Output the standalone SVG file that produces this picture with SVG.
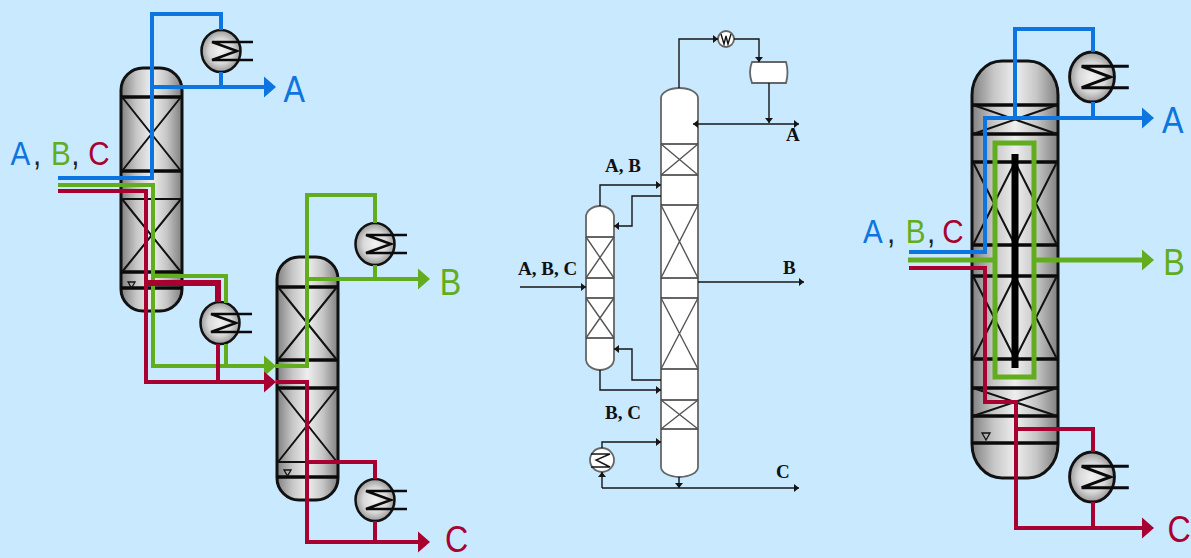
<svg xmlns="http://www.w3.org/2000/svg" xmlns:xlink="http://www.w3.org/1999/xlink" width="1191" height="558" viewBox="0 0 1191 558">
<style>
.col{fill:url(#g);stroke:#111;stroke-width:3}
.bar{stroke:#0a0a0a;stroke-width:3.5;fill:none}
.thin{stroke:#111;stroke-width:2;fill:none}
.hxb{fill:url(#g2);stroke:#111;stroke-width:2.5}
.hxl{fill:none;stroke:#0a0a0a;stroke-width:2.5}
.tri{fill:none;stroke:#111;stroke-width:1.3}
.bl,.gr,.rd{fill:none;stroke-width:4;stroke-linejoin:miter}
.bl{stroke:#0c75e0}.gr{stroke:#62ad1d}.rd{stroke:#a80030}
.lab{font-family:"Liberation Sans",Arial,sans-serif;font-size:37px}
.lab2{font-family:"Liberation Sans",Arial,sans-serif;font-size:34px}
.tb{fill:#0c75e0}.tg{fill:#62ad1d}.tr{fill:#a80030}.tk{fill:#222}
.m{fill:none;stroke:#151515;stroke-width:1.4}
.mv{fill:#fff;stroke:#666;stroke-width:1.8}
.mb{fill:none;stroke:#333;stroke-width:1.5}
.mx{fill:none;stroke:#555;stroke-width:1.4}
.sf{font-family:"Liberation Serif","Times New Roman",serif;font-weight:bold;font-size:19px;fill:#111}
</style>
<defs>
<linearGradient id="g" x1="0" x2="1" y1="0" y2="0"><stop offset="0" stop-color="#808080"/><stop offset=".25" stop-color="#c6c6c6"/><stop offset=".5" stop-color="#eeeeee"/><stop offset=".75" stop-color="#c6c6c6"/><stop offset="1" stop-color="#808080"/></linearGradient>
<radialGradient id="g2" cx=".5" cy=".5" r=".55"><stop offset="0" stop-color="#f2f2f2"/><stop offset=".55" stop-color="#d8d8d8"/><stop offset="1" stop-color="#8a8a8a"/></radialGradient>
<marker id="bh" markerUnits="userSpaceOnUse" markerWidth="13" markerHeight="22" refX="6" refY="11" orient="auto" overflow="visible"><path d="M0 0.500L12 11L0 21.500Z" fill="#0c75e0"/></marker>
<marker id="gh" markerUnits="userSpaceOnUse" markerWidth="13" markerHeight="22" refX="6" refY="11" orient="auto" overflow="visible"><path d="M0 0.500L12 11L0 21.500Z" fill="#62ad1d"/></marker>
<marker id="rh" markerUnits="userSpaceOnUse" markerWidth="13" markerHeight="22" refX="6" refY="11" orient="auto" overflow="visible"><path d="M0 0.500L12 11L0 21.500Z" fill="#a80030"/></marker>
<marker id="kh" markerUnits="userSpaceOnUse" markerWidth="6" markerHeight="8" refX="5" refY="4" orient="auto" overflow="visible"><path d="M0 0L5 4L0 8Z" fill="#151515"/></marker>
<g id="hx">
<ellipse class="hxb" cx="0" cy="0" rx="19.500" ry="21"/>
<path class="hxl" d="M32 -9H-9L16 0L-9 9H32"/>
</g>
</defs>
<rect width="1191" height="558" fill="#c8e9ff"/>

<g id="column-1">
<rect class="col" x="121" y="68" width="61" height="243" rx="22" ry="22"/>
<path class="bar" d="M121 97H182M121 171H182M121 272H182M121 288H182"/>
<path class="thin" d="M121 199H182M122 97L181 171M181 97L122 171M122 199L181 272M181 199L122 272"/>
<path class="tri" d="M128 282H135L131.500 288Z"/>
</g>
<g id="column-2">
<rect class="col" x="277" y="257" width="61" height="243" rx="22" ry="22"/>
<path class="bar" d="M277 287H338M277 360H338M277 388H338M277 477H338"/>
<path class="thin" d="M277 462H338M278 287L337 360M337 287L278 360M278 388L337 462M337 388L278 462"/>
<path class="tri" d="M284 470H291L287.500 476Z"/>
</g>
<g id="column-3">
<rect class="col" x="972" y="61" width="86" height="417" rx="30" ry="34"/>
<path class="bar" d="M972 105H1058M972 134H1058M972 162H1058M972 245H1058M972 276H1058M972 359H1058M972 388H1058M972 416H1058M972 443H1058"/>
<path class="thin" d="M973 105L1057 134M1057 105L973 134M973 388L1057 416M1057 388L973 416M973 162L1015 245M1015 162L973 245M1015 162L1057 245M1057 162L1015 245M973 276L1015 359M1015 276L973 359M1015 276L1057 359M1057 276L1015 359"/>
<path class="tri" d="M982 433H990L986 440Z"/>
<rect x="1011.500" y="154" width="7" height="214" fill="#000"/>
</g>

<g id="hx-1"><use href="#hx" xlink:href="#hx" transform="translate(221 51)"/></g>
<g id="hx-2"><use href="#hx" xlink:href="#hx" transform="translate(220 323)"/></g>
<g id="hx-3"><use href="#hx" xlink:href="#hx" transform="translate(375 244)"/></g>
<g id="hx-4"><use href="#hx" xlink:href="#hx" transform="translate(375 500)"/></g>
<g id="hx-5"><use href="#hx" xlink:href="#hx" transform="translate(1092 77) scale(1.15 1.19)"/></g>
<g id="hx-6"><use href="#hx" xlink:href="#hx" transform="translate(1092 477) scale(1.15 1.19)"/></g>

<g id="connectors-left">
<path class="gr" d="M58 185H153V366H270" marker-end="url(#gh)"/>
<path class="rd" d="M58 191H146V382H270" marker-end="url(#rh)"/>
<path class="bl" d="M58 178H152V14H221V30M221 72V87M152 87H270" marker-end="url(#bh)"/>
<path class="gr" d="M153 276H226V303M226 344V366M276 366H307V195H375V223M375 265V279M307 279H424" marker-end="url(#gh)"/>
<path class="rd" d="M146 283H218V302" style="stroke-width:6"/>
<path class="rd" d="M218 344V382M276 382H307V542H424" marker-end="url(#rh)"/>
<path class="rd" d="M307 462H375V479M375 521V542"/>
</g>
<g id="connectors-right">
<path class="bl" d="M909 252H985V118H1148" marker-end="url(#bh)"/>
<path class="bl" d="M1015 118V29H1093V52M1093 102V118"/>
<path class="gr" d="M908 260H995M1034 260H1148" style="stroke-width:5" marker-end="url(#gh)"/>
<rect class="gr" x="995" y="143" width="39" height="234" style="stroke-width:5"/>
<path class="rd" d="M909 268H985V402H1016V528H1148" marker-end="url(#rh)"/>
<path class="rd" d="M1016 429H1093V452M1093 502V528"/>
</g>

<g id="middle-columns">
<path class="mv" d="M661 98A18.500 10 0 0 1 698 98V467A18.500 10 0 0 1 661 467Z"/>
<path class="mb" d="M661 144H698M661 175H698M661 205H698M661 278H698M661 298H698M661 369H698M661 400H698M661 429H698"/>
<path class="mx" d="M661 144L698 175M698 144L661 175M661 205L698 278M698 205L661 278M661 298L698 369M698 298L661 369M661 400L698 429M698 400L661 429"/>
<path class="mv" d="M586 217A14 11 0 0 1 614 217V359A14 11 0 0 1 586 359Z"/>
<path class="mb" d="M586 237H614M586 278H614M586 298H614M586 338H614"/>
<path class="mx" d="M586 237L614 278M614 237L586 278M586 298L614 338M614 298L586 338"/>
</g>
<g id="middle-drum"><path class="mv" d="M752 62H786Q789 72 786 83H752Q748 72 752 62Z"/></g>
<g id="middle-hx-top"><circle class="mv" cx="726" cy="39" r="8"/><path class="m" d="M721 34L724 44L726 36L728 44L731 34"/></g>
<g id="middle-hx-bottom"><ellipse class="mv" cx="602" cy="460" rx="12" ry="12"/><path class="m" d="M591 454H610L596 460L610 467H591"/></g>
<g id="connectors-middle">
<path class="m" d="M679 88V39H718" marker-end="url(#kh)"/>
<path class="m" d="M734 39H759V62" marker-end="url(#kh)"/>
<path class="m" d="M769 83V123" marker-end="url(#kh)"/>
<path class="m" d="M760 124H799" marker-end="url(#kh)"/>
<path class="m" d="M760 124H693" marker-end="url(#kh)"/>
<path class="m" d="M600 206V185H661" marker-end="url(#kh)"/>
<path class="m" d="M661 196H632V226H614" marker-end="url(#kh)"/>
<path class="m" d="M520 287H586" marker-end="url(#kh)"/>
<path class="m" d="M698 282H804" marker-end="url(#kh)"/>
<path class="m" d="M661 380H632V349H614" marker-end="url(#kh)"/>
<path class="m" d="M600 370V390H661" marker-end="url(#kh)"/>
<path class="m" d="M602 448V442H661" marker-end="url(#kh)"/>
<path class="m" d="M679 477V488" marker-end="url(#kh)"/>
<path class="m" d="M602 488H799" marker-end="url(#kh)"/>
<path class="m" d="M602 488V472" marker-end="url(#kh)"/>
</g>

<g id="labels">
<g transform="scale(.87 1)">
<text class="lab2" y="165"><tspan class="tb" x="12">A</tspan><tspan class="tk" x="38">,</tspan><tspan class="tg" x="58.500">B</tspan><tspan class="tk" x="82">,</tspan><tspan class="tr" x="101.500">C</tspan></text>
<text class="lab tb" x="326" y="102">A</text>
<text class="lab tg" x="505.500" y="295">B</text>
<text class="lab tr" x="511.500" y="552">C</text>
<text class="lab2" y="243"><tspan class="tb" x="992">A</tspan><tspan class="tk" x="1019.500">,</tspan><tspan class="tg" x="1041">B</tspan><tspan class="tk" x="1065.500">,</tspan><tspan class="tr" x="1083">C</tspan></text>
<text class="lab tb" x="1335.500" y="133">A</text>
<text class="lab tg" x="1337" y="275">B</text>
<text class="lab tr" x="1342" y="542">C</text>
</g>
<text class="sf" x="518" y="275">A, B, C</text>
<text class="sf" x="605" y="172">A, B</text>
<text class="sf" x="605" y="419">B, C</text>
<text class="sf" x="786" y="141">A</text>
<text class="sf" x="783" y="274">B</text>
<text class="sf" x="776" y="478">C</text>
</g>
</svg>
